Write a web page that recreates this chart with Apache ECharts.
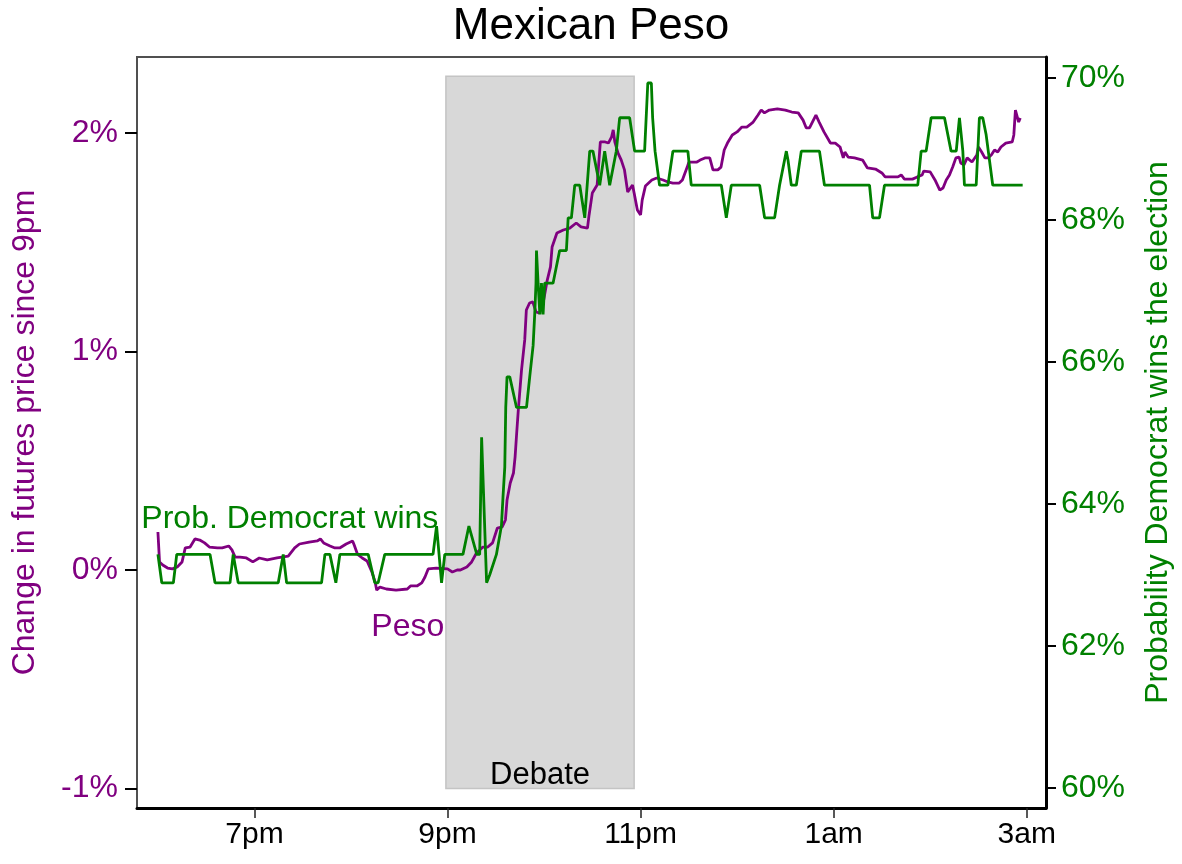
<!DOCTYPE html>
<html><head><meta charset="utf-8">
<script src="https://cdn.jsdelivr.net/npm/echarts@6/dist/echarts.min.js"></script>
<style>html,body{margin:0;padding:0;background:#fff}#c{width:1182px;height:864px}</style>
</head><body><div id="c"></div>
<script>
// time in minutes after 6pm
const pesoMinutes = [0,1,3,6,9,12,15,17,20,23,26,29,32,37,40,44,46,48,51,55,59,63,68,74,77,81,85,88,94,99,101,103,107,110,113,117,121,122,124,127,130,133,135,136,138,142,148,155,157,161,164,166,168,173,180,183,186,188,192,195,198,202,205,208,211,214,216,217,219,221,222,223,224,226,228,229,231,233,235,237,239,242,244,245,248,252,256,260,263,267,268,270,273,275,278,280,282,283,284,286,288,290,292,295,296,298,300,301,303,307,310,314,317,320,324,326,329,330,335,337,340,343,345,348,350,352,354,357,360,363,366,370,373,375,377,380,385,390,394,398,401,403,405,409,411,414,418,421,424,426,427,429,433,438,441,446,450,452,460,462,464,469,472,475,476,480,483,486,488,490,492,494,496,498,499,501,503,506,509,510,512,514,516,518,520,522,524,527,531,532,533,534,535,536];
const pesoChange = [0.174,0.037,0.023,0.009,0.005,0.014,0.037,0.101,0.105,0.142,0.137,0.124,0.105,0.101,0.101,0.110,0.092,0.059,0.059,0.055,0.037,0.055,0.046,0.055,0.059,0.064,0.101,0.119,0.128,0.133,0.142,0.124,0.110,0.101,0.101,0.119,0.133,0.114,0.073,0.055,0.041,-0.009,-0.055,-0.092,-0.078,-0.087,-0.092,-0.087,-0.073,-0.073,-0.059,-0.032,0.005,0.009,0.005,-0.009,0.0,0.0,0.014,0.037,0.078,0.105,0.105,0.124,0.192,0.197,0.229,0.320,0.398,0.444,0.517,0.627,0.732,0.915,1.053,1.190,1.222,1.227,1.181,1.176,1.204,1.327,1.387,1.478,1.542,1.556,1.565,1.588,1.570,1.565,1.625,1.725,1.762,1.959,1.959,1.954,1.982,2.014,1.959,1.908,1.876,1.831,1.730,1.762,1.725,1.648,1.625,1.693,1.757,1.785,1.794,1.785,1.776,1.771,1.771,1.785,1.844,1.867,1.867,1.876,1.886,1.886,1.831,1.831,1.844,1.922,1.954,1.991,2.005,2.027,2.027,2.050,2.082,2.105,2.092,2.105,2.110,2.105,2.096,2.092,2.059,2.023,2.023,2.082,2.050,2.005,1.954,1.954,1.936,1.886,1.913,1.890,1.886,1.876,1.840,1.835,1.817,1.799,1.799,1.808,1.789,1.789,1.799,1.808,1.826,1.822,1.785,1.739,1.748,1.785,1.808,1.844,1.886,1.890,1.863,1.854,1.886,1.867,1.899,1.936,1.913,1.886,1.886,1.899,1.922,1.913,1.936,1.954,1.959,1.991,2.105,2.096,2.050,2.069];

const probMinutes = [0,2.4,9.6,11.7,32.4,35.5,44.8,46.8,47.9,49.9,74.8,77.9,80.0,101.7,103.8,106.9,110.6,113.1,130.7,134.8,136.9,141,171,173.2,174.2,176.3,178.3,189.6,193.3,194.5,198.2,200,201.2,204.3,206.2,210.4,213.5,214.5,215.6,216.2,217,218.7,222.9,229.1,231.1,233.2,234.2,235,235.3,236.3,237.4,238.4,239.4,240.4,245.6,249.7,253.9,255,257,259.1,262.2,265.3,268.4,270.4,274.6,277.7,280.8,284.9,287,293.2,296.3,302.5,304.5,306.7,307.5,309,311.8,317,320.1,329.4,331.5,350.2,353.3,356.4,374,377.1,383.3,386.4,390.6,391.6,393.7,396.8,399.9,411.2,414.3,442.3,444.3,448.5,451.6,472.3,474.4,477.5,480.6,488.9,493,496.2,498.2,499.3,500.3,501.3,508.6,510.6,512.7,514.8,518.9,537.5];
const probValue = [63.29,62.89,62.89,63.29,63.29,62.89,62.89,63.29,63.29,62.89,62.89,63.29,62.89,62.89,63.29,63.29,62.89,63.29,63.29,62.89,62.89,63.29,63.29,63.69,63.69,62.89,63.29,63.29,63.69,63.69,63.29,63.29,64.94,62.89,63.00,63.29,63.69,64.10,64.52,65.36,65.79,65.79,65.36,65.36,65.79,66.23,66.67,67.11,67.57,67.11,66.67,67.11,66.67,67.11,67.11,67.57,67.57,68.03,68.03,68.49,68.49,68.03,68.97,68.97,68.49,68.97,68.49,68.97,69.44,69.44,68.97,68.97,69.93,69.93,69.44,68.97,68.49,68.49,68.97,68.97,68.49,68.49,68.03,68.49,68.49,68.03,68.03,68.49,68.97,68.85,68.49,68.49,68.97,68.97,68.49,68.49,68.03,68.03,68.49,68.49,68.97,68.97,69.44,69.44,68.97,68.97,69.44,69.20,68.97,68.49,68.49,69.44,69.44,69.20,68.49,68.49];

const xTickValues = [60,180,300,420,540];
const xTickLabels = ['7pm','9pm','11pm','1am','3am'];
const leftTicks = [-1,0,1,2];
const rightTicks = [60,62,64,66,68,70];
const debateSpan = [179, 296];
const debateTop = 2.26;
const debateLabel = 'Debate';
const probLabel = 'Prob. Democrat wins';
const probLabelAt = [82, 63.79];
const pesoLabel = 'Peso';
const pesoLabelAt = [155.3, -0.261];

const PURPLE = '#800080', GREEN = '#008000';
const FONT = "'Liberation Sans', Arial, sans-serif";

const pesoData = pesoMinutes.map((m,i)=>[m,pesoChange[i]]);
const probData = probMinutes.map((m,i)=>[m,probValue[i]]);

const chart = echarts.init(document.getElementById('c'), null, {renderer:'canvas'});
chart.setOption({
  animation:false,
  backgroundColor:'#fff',
  title:{text:'Mexican Peso', left:'center', top:0,
    textStyle:{fontFamily:FONT, fontSize:44, fontWeight:'normal', color:'#000'}},
  grid:{left:137, right:135, top:57, bottom:56, show:true, borderColor:'#505050', borderWidth:2, backgroundColor:'transparent'},
  xAxis:{type:'value', min:-13, max:552,
    axisLine:{show:true, onZero:false, lineStyle:{color:'#000', width:3}},
    axisTick:{show:true, customValues:xTickValues, length:10, lineStyle:{color:'#222', width:1.5}},
    axisLabel:{customValues:xTickValues, margin:12, fontFamily:FONT, fontSize:30, color:'#000',
      formatter:v=>xTickLabels[xTickValues.indexOf(v)]},
    splitLine:{show:false}},
  yAxis:[
    {type:'value', position:'left', min:-1.0892, max:2.3478,
      name:'Change in futures price since 9pm', nameLocation:'middle', nameGap:96,
      nameTextStyle:{fontFamily:FONT, fontSize:32, color:PURPLE},
      axisLine:{show:true, onZero:false, lineStyle:{color:'#505050', width:2}},
      axisTick:{show:true, customValues:leftTicks, length:12, lineStyle:{color:'#000', width:2}},
      axisLabel:{customValues:leftTicks, margin:19, fontFamily:FONT, fontSize:32, color:PURPLE, formatter:v=>v+'%'},
      splitLine:{show:false}},
    {type:'value', position:'right', min:59.718, max:70.296,
      name:'Probability Democrat wins the election', nameLocation:'middle', nameGap:96,
      nameTextStyle:{fontFamily:FONT, fontSize:32, color:GREEN},
      axisLine:{show:true, onZero:false, lineStyle:{color:'#000', width:3}},
      axisTick:{show:true, customValues:rightTicks, length:10, lineStyle:{color:'#000', width:2}},
      axisLabel:{customValues:rightTicks, margin:15, fontFamily:FONT, fontSize:32, color:GREEN, formatter:v=>v+'%'},
      splitLine:{show:false}}
  ],
  series:[
    {type:'line', name:'debate', data:[], z:1, yAxisIndex:0,
      markArea:{silent:true,
        itemStyle:{color:'#d8d8d8', borderColor:'#c4c4c4', borderWidth:1.5},
        label:{show:true, position:'insideBottom', distance:2, offset:[0,4], fontFamily:FONT, fontSize:31, color:'#000', formatter:debateLabel},
        data:[[{xAxis:debateSpan[0], yAxis:-1},{xAxis:debateSpan[1], yAxis:debateTop}]]}},
    {type:'line', name:'Peso', data:pesoData, yAxisIndex:0, z:3, showSymbol:false, symbol:'none',
      lineStyle:{color:PURPLE, width:2.8}, itemStyle:{color:PURPLE},
      markPoint:{silent:true, symbol:'rect', symbolSize:[1,1], itemStyle:{color:'transparent'},
        label:{show:true, position:'inside', fontFamily:FONT, fontSize:32, color:PURPLE, formatter:pesoLabel},
        data:[{coord:pesoLabelAt}]}},
    {type:'line', name:'Prob', data:probData, yAxisIndex:1, z:4, showSymbol:false, symbol:'none',
      lineStyle:{color:GREEN, width:2.8}, itemStyle:{color:GREEN},
      markPoint:{silent:true, symbol:'rect', symbolSize:[1,1], itemStyle:{color:'transparent'},
        label:{show:true, position:'inside', fontFamily:FONT, fontSize:32, color:GREEN, formatter:probLabel},
        data:[{coord:probLabelAt}]}}
  ]
});
</script></body></html>
